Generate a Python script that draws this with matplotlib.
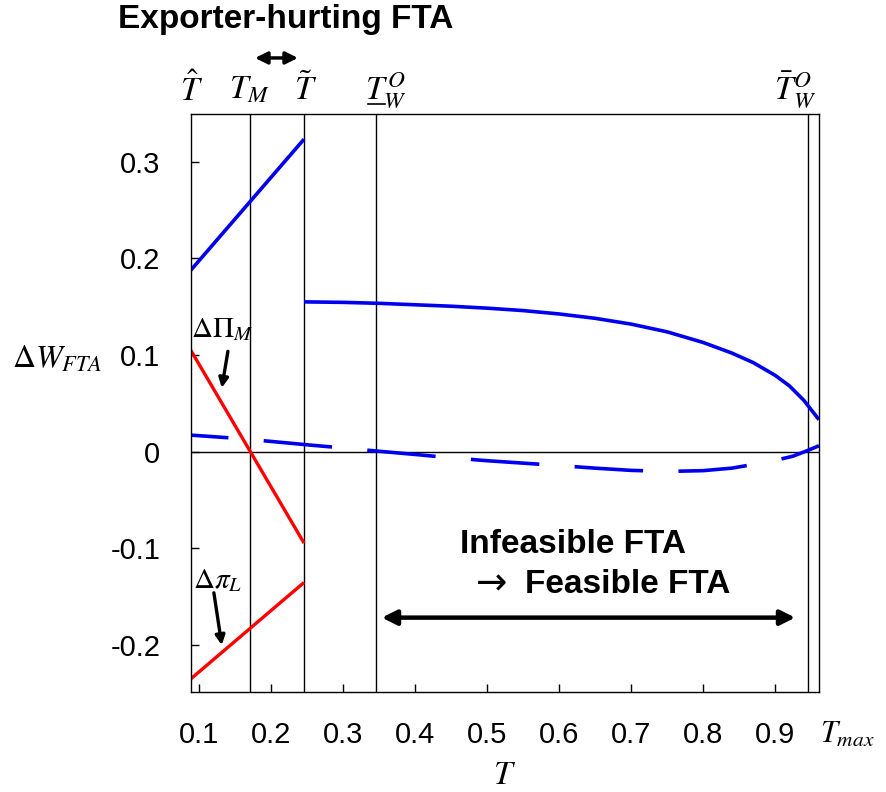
import matplotlib
matplotlib.use("Agg")
import matplotlib.pyplot as plt
from matplotlib.lines import Line2D

plt.rcParams['font.family'] = ['Liberation Sans', 'DejaVu Sans']
plt.rcParams['mathtext.fontset'] = 'stix'

# ---- data ----
# blue solid, first piece (T_hat .. T_tilde)
w1_T = [0.089, 0.246]
w1_W = [0.188, 0.3235]
# blue solid, second piece (T_tilde .. T_max)
w2_T = [0.246, 0.30, 0.35, 0.40, 0.45, 0.50, 0.55, 0.60, 0.65, 0.70, 0.75,
        0.80, 0.84, 0.87, 0.90, 0.92, 0.94, 0.961]
w2_W = [0.155, 0.1545, 0.1535, 0.152, 0.1505, 0.1485, 0.146, 0.1425, 0.138, 0.132, 0.124,
        0.113, 0.102, 0.092, 0.079, 0.068, 0.053, 0.033]
# blue dashed
wd_T = [0.089, 0.15, 0.20, 0.25, 0.30, 0.35, 0.40, 0.45, 0.50, 0.55, 0.60, 0.65,
        0.70, 0.75, 0.80, 0.84, 0.875, 0.90, 0.925, 0.945, 0.961]
wd_W = [0.017, 0.0138, 0.0105, 0.007, 0.0037, 0.0003, -0.003, -0.0065, -0.0095, -0.012,
        -0.0145, -0.0172, -0.0195, -0.0206, -0.0198, -0.0172, -0.0127, -0.0092, -0.0048,
        0.001, 0.006]
# red lines
piM_T = [0.089, 0.246]
piM_W = [0.1046, -0.0948]
piL_T = [0.089, 0.246]
piL_W = [-0.2353, -0.1356]

# threshold lines: T_M, T_tilde, underline T_W^O, bar T_W^O
vlines_T = [0.1708, 0.2458, 0.346, 0.946]
T_hat, T_max = 0.089, 0.961

xticks = [0.1, 0.2, 0.3, 0.4, 0.5, 0.6, 0.7, 0.8, 0.9]
yticks = [0.3, 0.2, 0.1, 0.0, -0.1, -0.2]
ytick_labels = ['0.3', '0.2', '0.1', '0', '-0.1', '-0.2']

# ---- figure ----
fig = plt.figure(figsize=(8.87, 7.92), dpi=100)
ax = fig.add_axes([0.2153, 0.1263, 0.708, 0.7298])
ax.set_xlim(T_hat, T_max)
ax.set_ylim(-0.249, 0.3496)

for v in vlines_T:
    ax.axvline(v, color='black', lw=1.0)
ax.axhline(0, color='black', lw=1.0)

ax.plot(w1_T, w1_W, color='#0000ee', lw=2.6, solid_capstyle='butt')
ax.plot(w2_T, w2_W, color='#0000ee', lw=2.6, solid_capstyle='butt')
ax.plot(wd_T, wd_W, color='#0000ee', lw=2.6, linestyle=(8.6, (19, 9.8)))
ax.plot(piM_T, piM_W, color='#ff0000', lw=2.4, solid_capstyle='butt')
ax.plot(piL_T, piL_W, color='#ff0000', lw=2.4, solid_capstyle='butt')

for s in ax.spines.values():
    s.set_linewidth(1.0)

ax.set_xticks(xticks)
ax.set_xticklabels([f'{t:.1f}' for t in xticks])
ax.set_yticks(yticks)
ax.set_yticklabels(ytick_labels)
ax.tick_params(axis='x', direction='in', length=6, width=1, pad=21, labelsize=21)
ax.tick_params(axis='y', direction='in', length=6, width=1, pad=22, labelsize=21)

# T_max and axis labels
ax.text(0.962, -0.0744, r'$T_{max}$', transform=ax.get_xaxis_transform(),
        ha='left', va='center', fontsize=22)
ax.set_xlabel(r'$T$', fontsize=24, labelpad=8)
fig.text(12 / 887, 1 - 360 / 792, r'$\Delta W_{FTA}$', ha='left', va='center', fontsize=23)

# top threshold labels
top_y = 1.041
tr = ax.get_xaxis_transform()
ax.text(T_hat + 0.001, top_y, r'$\hat{T}$', transform=tr, ha='center', va='center', fontsize=24)
ax.text(vlines_T[0], top_y, r'$T_M$', transform=tr, ha='center', va='center', fontsize=24)
ax.text(vlines_T[1] + 0.002, top_y, r'$\tilde{T}$', transform=tr, ha='center', va='center', fontsize=24)
ax.text(vlines_T[2] + 0.014, top_y, r'$T_W^O$', transform=tr, ha='center', va='center', fontsize=24)
ax.text(vlines_T[3] - 0.018, top_y, r'$\bar{T}_W^O$', transform=tr, ha='center', va='center', fontsize=24)
fig.add_artist(Line2D([368 / 887, 385 / 887], [1 - 104 / 792, 1 - 104 / 792],
                      color='black', lw=1.2))

# exporter-hurting FTA
ax.text(0.2208, 0.447, 'Exporter-hurting FTA', ha='center', va='center',
        fontsize=24, fontweight='bold', clip_on=False)
ax.annotate('', xy=(0.178, 0.4076), xytext=(0.2375, 0.4076), annotation_clip=False,
            arrowprops=dict(arrowstyle='<|-|>', color='black', lw=2.5,
                            mutation_scale=18, shrinkA=0, shrinkB=0))

# infeasible -> feasible
ax.text(0.1 + (460 - 199) / 720, (451.7 - 545) / 966, 'Infeasible FTA', ha='left', va='center',
        fontsize=24, fontweight='bold')
ax.text(0.1 + (476 - 199) / 720, (451.7 - 585) / 966, '\u2192', ha='left', va='center',
        fontsize=27, family=['DejaVu Sans'])
ax.text(0.1 + (525 - 199) / 720, (451.7 - 585) / 966, 'Feasible FTA', ha='left', va='center',
        fontsize=24, fontweight='bold')
ax.annotate('', xy=(0.354, -0.172), xytext=(0.928, -0.172),
            arrowprops=dict(arrowstyle='<|-|>', color='black', lw=3.2,
                            mutation_scale=22, shrinkA=0, shrinkB=0))

# curve labels
ax.text(0.0895, 0.127, r'$\Delta\Pi_M$', ha='left', va='center', fontsize=21)
ax.annotate('', xy=(0.1318, 0.066), xytext=(0.1403, 0.1038),
            arrowprops=dict(arrowstyle='-|>', color='black', lw=2.4,
                            mutation_scale=14, shrinkA=0, shrinkB=0))
ax.text(0.092, -0.133, r'$\Delta\pi_L$', ha='left', va='center', fontsize=21)
ax.annotate('', xy=(0.1318, -0.2005), xytext=(0.1208, -0.1463),
            arrowprops=dict(arrowstyle='-|>', color='black', lw=2.4,
                            mutation_scale=14, shrinkA=0, shrinkB=0))

fig.savefig('out.png', dpi=100)
